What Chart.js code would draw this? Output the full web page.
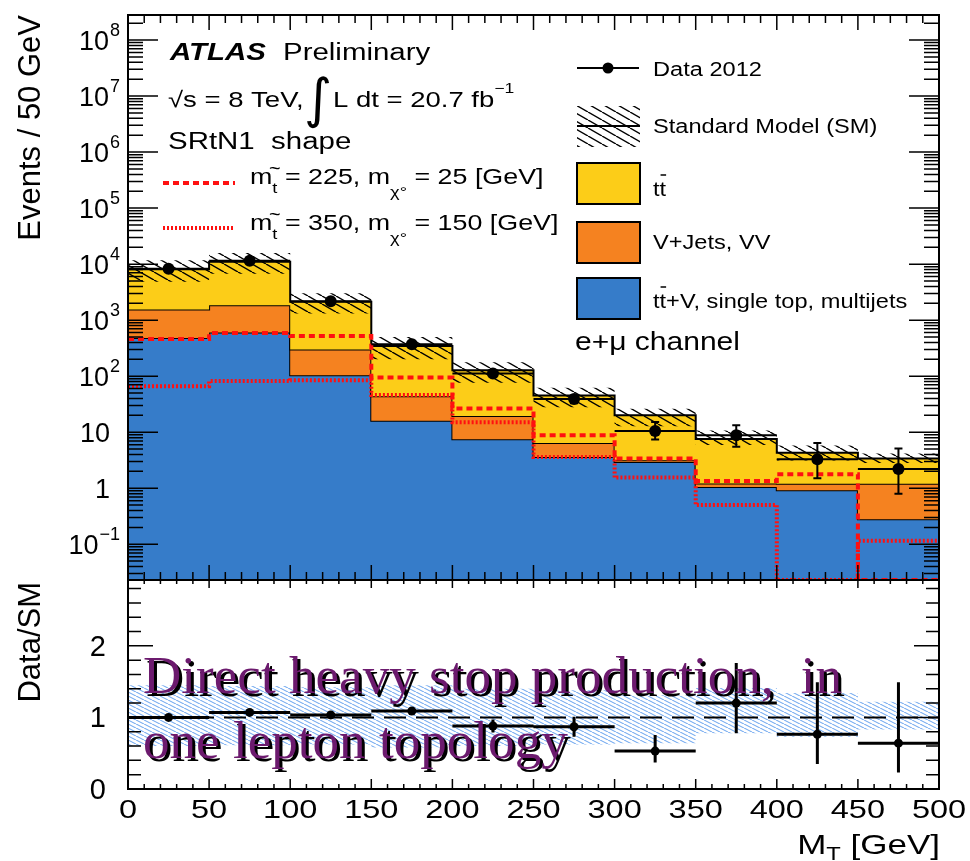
<!DOCTYPE html>
<html>
<head>
<meta charset="utf-8">
<title>MT distribution, SRtN1 shape</title>
<script src="https://cdn.jsdelivr.net/npm/chart.js@4.4.1/dist/chart.umd.min.js"></script>
<style>
  html, body { margin: 0; padding: 0; background: #fff; }
  #page { position: relative; width: 970px; height: 861px; overflow: hidden; }
  #topCanvas { position: absolute; left: 0; top: 0; }
  #ratioCanvas { position: absolute; left: 0; top: 560px; }
</style>
</head>
<body>
<div id="page">
  <canvas id="topCanvas" width="970" height="600"></canvas>
  <canvas id="ratioCanvas" width="970" height="301"></canvas>
</div>
<script>
// bins of M_T [GeV]
const binEdges = [0, 50, 100, 150, 200, 250, 300, 350, 400, 450, 500];

// stacked SM backgrounds, events / 50 GeV
const ttVSingleTop = [480, 600, 104, 16, 7.5, 3.6, 2.95, 1.05, 0.92, 0.28];
const vJetsVV = [1070, 1250, 196, 28, 12, 2.8, 0.2, 0.17, 0.28, 0.92];
const ttbar = [6550, 9150, 1830, 301, 107.5, 38.6, 16.85, 6.38, 3.1, 2.2];

// SM uncertainty band, as fraction of SM total
const smBandHi = [1.45, 1.44, 1.42, 1.45, 1.40, 1.38, 1.31, 1.41, 1.34, 1.22];
const smBandLo = [0.60, 0.61, 0.62, 0.58, 0.60, 0.62, 0.64, 0.78, 0.73, 0.83];

// data 2012
const data2012 = [8300, 11500, 2170, 370, 112, 39, 10.5, 8.8, 3.3, 2.2];
const dataErrLo = [91, 107, 47, 19, 11, 6, 3.1, 3.3, 1.8, 1.4];
const dataErrHi = [91, 107, 47, 19, 11, 6, 4.7, 4.5, 3.1, 2.9];

// signal points
const stop225 = [460, 590, 520, 95, 26.5, 8.8, 3.4, 1.35, 1.78, 0];
const stop350 = [66, 82, 85, 46, 15, 3.6, 1.55, 0.5, 0, 0.115];

// data / SM
const ratioVals = [1.0, 1.07, 1.035, 1.09, 0.88, 0.87, 0.53, 1.20, 0.765, 0.64];
const ratioErrLo = [0.02, 0.02, 0.03, 0.05, 0.09, 0.14, 0.16, 0.42, 0.415, 0.41];
const ratioErrHi = [0.02, 0.02, 0.03, 0.05, 0.09, 0.14, 0.225, 0.56, 0.725, 0.85];
const ratioRef = 1;

// axis ticks
const xTickLabels = ['0', '50', '100', '150', '200', '250', '300', '350', '400', '450', '500'];
const yTickVals = [0.1, 1, 10, 100, 1e3, 1e4, 1e5, 1e6, 1e7, 1e8];
const yTickLabels = [['10', '\u22121'], ['1', ''], ['10', ''], ['10', '2'], ['10', '3'],
                     ['10', '4'], ['10', '5'], ['10', '6'], ['10', '7'], ['10', '8']];
const ratioTickVals = [0, 1, 2];

const yMin = 0.023, yMax = 2.8e8;
const rMin = 0, rMax = 2.92;

const BLUE = '#367cc9', ORANGE = '#f58220', YELLOW = '#fccd18', RED = '#ff1010', PURPLE = '#6c1a6e';
const SANS = '"Liberation Sans", Arial, sans-serif';
const SERIF = '"Liberation Serif", "Times New Roman", serif';

// derived
const centers = binEdges.slice(0, -1).map((e, i) => (e + binEdges[i + 1]) / 2);
const orangeTop = ttVSingleTop.map((v, i) => v + vJetsVV[i]);
const smTotal = orangeTop.map((v, i) => v + ttbar[i]);
const smUp = smTotal.map((v, i) => v * smBandHi[i]);
const smDn = smTotal.map((v, i) => v * smBandLo[i]);

// histogram outline: one point per bin edge, last value repeated
const steps = (vals, floor) => binEdges.map((x, i) => {
  const v = vals[Math.min(i, vals.length - 1)];
  return { x, y: floor !== undefined ? Math.max(v, floor) : v };
});

function hatch(color, w, h, lw) {
  const c = document.createElement('canvas');
  c.width = w; c.height = h;
  const g = c.getContext('2d');
  g.strokeStyle = color; g.lineWidth = lw;
  g.beginPath();
  for (let k = -1; k <= 1; k++) { g.moveTo(k * w, 0); g.lineTo(k * w + w, h); }
  g.stroke();
  return g.createPattern(c, 'repeat');
}
const blackHatch = hatch('#000', 14, 8, 1.4);
const blueHatch = hatch('#74aaf0', 8, 4, 1.1);

// draw text runs (sub/superscripts) with a horizontal stretch
function drawRuns(ctx, parts, x, y, opts = {}) {
  const sx = opts.sx || 1, align = opts.align || 'left';
  ctx.save();
  let total = 0;
  for (const p of parts) {
    ctx.font = `${p.style || ''} ${p.size}px ${p.family || SANS}`;
    p.w = ctx.measureText(p.t).width * sx;
    total += p.w;
  }
  let cx = align === 'right' ? x - total : align === 'center' ? x - total / 2 : x;
  for (const p of parts) {
    ctx.font = `${p.style || ''} ${p.size}px ${p.family || SANS}`;
    ctx.fillStyle = p.color || '#000';
    ctx.textAlign = 'left';
    ctx.textBaseline = 'alphabetic';
    const by = y + (p.dy || 0);
    ctx.save(); ctx.translate(cx, by); ctx.scale(sx, 1); ctx.fillText(p.t, 0, 0); ctx.restore();
    if (p.tilde) {
      ctx.font = `${Math.round(p.size * 1.35)}px ${SANS}`;
      ctx.textAlign = 'center'; ctx.textBaseline = 'middle';
      ctx.fillText('~', cx + p.w / 2, by - p.size * 1.55);
    }
    if (p.bar) {
      ctx.strokeStyle = '#000'; ctx.lineWidth = 1.5;
      ctx.beginPath(); ctx.moveTo(cx + 1, by - p.size * 1.05); ctx.lineTo(cx + p.w, by - p.size * 1.05); ctx.stroke();
    }
    cx += p.w;
  }
  ctx.restore();
  return total;
}

function vtext(ctx, s, x, y, size) {
  ctx.save();
  ctx.translate(x, y); ctx.rotate(-Math.PI / 2);
  ctx.font = `${size}px ${SANS}`; ctx.fillStyle = '#000';
  ctx.textAlign = 'right'; ctx.textBaseline = 'alphabetic';
  ctx.fillText(s, 0, 0);
  ctx.restore();
}

// ---------- top panel ----------
const DATA_IDX = 7;

const topFrame = {
  id: 'topFrame',
  beforeDatasetDraw(chart, args) {
    if (args.index !== DATA_IDX) return;
    const { ctx, scales: { x, y } } = chart;
    ctx.save();
    ctx.strokeStyle = '#000'; ctx.lineWidth = 2;
    ctx.beginPath();
    data2012.forEach((v, i) => {
      const py = y.getPixelForValue(v);
      const cx = x.getPixelForValue(centers[i]);
      ctx.moveTo(x.getPixelForValue(binEdges[i]), py);
      ctx.lineTo(x.getPixelForValue(binEdges[i + 1]), py);
      const y1 = y.getPixelForValue(v + dataErrHi[i]);
      const y2 = y.getPixelForValue(v - dataErrLo[i]);
      ctx.moveTo(cx, y1); ctx.lineTo(cx, y2);
      ctx.moveTo(cx - 4, y1); ctx.lineTo(cx + 4, y1);
      ctx.moveTo(cx - 4, y2); ctx.lineTo(cx + 4, y2);
    });
    ctx.stroke();
    ctx.restore();
  },
  afterDatasetsDraw(chart) {
    const { ctx, chartArea: a, scales: { x, y } } = chart;
    ctx.save();
    ctx.strokeStyle = '#000';
    ctx.lineWidth = 1.5;
    ctx.beginPath();
    for (let v = 0; v <= 500; v += 10) {
      const px = x.getPixelForValue(v);
      const len = v % 50 === 0 ? 15 : 8;
      ctx.moveTo(px, a.top); ctx.lineTo(px, a.top + len);
      ctx.moveTo(px, a.bottom); ctx.lineTo(px, a.bottom - len);
    }
    for (let e = -2; e <= 8; e++) {
      for (let m = 1; m <= 9; m++) {
        const v = m * Math.pow(10, e);
        if (v < yMin || v > yMax) continue;
        const py = y.getPixelForValue(v);
        const len = m === 1 ? 30 : 15;
        ctx.moveTo(a.left, py); ctx.lineTo(a.left + len, py);
        ctx.moveTo(a.right, py); ctx.lineTo(a.right - len, py);
      }
    }
    ctx.stroke();
    ctx.lineWidth = 2;
    ctx.strokeRect(a.left, a.top, a.right - a.left, a.bottom - a.top);
    ctx.restore();
  },
  afterDraw(chart) {
    const { ctx, scales: { y } } = chart;
    vtext(ctx, 'Events / 50 GeV', 40, 15, 31);

    // y tick labels
    yTickVals.forEach((v, i) => {
      const py = y.getPixelForValue(v);
      const [base, ex] = yTickLabels[i];
      if (ex) {
        ctx.font = `18px ${SANS}`;
        const we = ctx.measureText(ex).width;
        drawRuns(ctx, [{ t: ex, size: 18 }], 120 - we, py - 4);
        drawRuns(ctx, [{ t: base, size: 27 }], 119 - we, py + 10, { align: 'right' });
      } else {
        drawRuns(ctx, [{ t: base, size: 27 }], 110, py + 10, { align: 'right' });
      }
    });

    // header text
    drawRuns(ctx, [{ t: 'ATLAS', size: 23, style: 'italic bold' }], 170, 60, { sx: 1.28 });
    drawRuns(ctx, [{ t: 'Preliminary', size: 23 }], 283, 60, { sx: 1.28 });
    drawRuns(ctx, [{ t: '\u221As = 8 TeV,', size: 22 }], 168, 107, { sx: 1.25 });
    drawRuns(ctx, [{ t: '\u222B', size: 54, family: '"DejaVu Sans", sans-serif' }], 304, 117, { sx: 1 });
    drawRuns(ctx, [{ t: 'L dt = 20.7 fb', size: 22 }, { t: '\u22121', size: 14, dy: -14 }], 333, 107, { sx: 1.25 });
    drawRuns(ctx, [{ t: 'SRtN1  shape', size: 23 }], 168, 149, { sx: 1.28 });

    // signal legend
    ctx.save();
    ctx.strokeStyle = RED; ctx.lineWidth = 4;
    ctx.setLineDash([6, 4]);
    ctx.beginPath(); ctx.moveTo(163, 183); ctx.lineTo(235, 183); ctx.stroke();
    ctx.setLineDash([2, 2]);
    ctx.beginPath(); ctx.moveTo(163, 228); ctx.lineTo(235, 228); ctx.stroke();
    ctx.restore();
    const sigLabel = (mst, mchi) => [
      { t: 'm', size: 22 }, { t: 't', size: 15, dy: 9, tilde: true },
      { t: ' = ' + mst + ', m', size: 22 }, { t: '\u03C7\u00B0', size: 15, dy: 13 },
      { t: ' = ' + mchi + ' [GeV]', size: 22 }
    ];
    drawRuns(ctx, sigLabel(225, 25), 250, 184, { sx: 1.22 });
    drawRuns(ctx, sigLabel(350, 150), 250, 230, { sx: 1.22 });

    // right legend
    ctx.save();
    ctx.strokeStyle = '#000'; ctx.lineWidth = 2;
    ctx.beginPath(); ctx.moveTo(577, 68); ctx.lineTo(639, 68); ctx.stroke();
    ctx.fillStyle = '#000';
    ctx.beginPath(); ctx.arc(608, 68, 5.5, 0, Math.PI * 2); ctx.fill();
    ctx.fillStyle = blackHatch; ctx.fillRect(577, 106, 63, 41);
    ctx.beginPath(); ctx.moveTo(577, 126); ctx.lineTo(640, 126); ctx.stroke();
    [[YELLOW, 163], [ORANGE, 222], [BLUE, 278]].forEach(([c, top]) => {
      ctx.fillStyle = c; ctx.fillRect(577, top, 63, 41);
      ctx.strokeRect(577, top, 63, 41);
    });
    ctx.restore();
    drawRuns(ctx, [{ t: 'Data 2012', size: 20 }], 653, 76, { sx: 1.18 });
    drawRuns(ctx, [{ t: 'Standard Model (SM)', size: 20 }], 653, 133, { sx: 1.18 });
    drawRuns(ctx, [{ t: 't', size: 20 }, { t: 't', size: 20, bar: true }], 653, 196, { sx: 1.18 });
    drawRuns(ctx, [{ t: 'V+Jets, VV', size: 20 }], 653, 249, { sx: 1.18 });
    drawRuns(ctx, [{ t: 't', size: 20 }, { t: 't', size: 20, bar: true },
                   { t: '+V, single top, multijets', size: 20 }], 653, 308, { sx: 1.18 });
    drawRuns(ctx, [{ t: 'e+\u03BC channel', size: 25 }], 575, 350, { sx: 1.2 });
  }
};

const lineBase = { stepped: true, pointRadius: 0, borderWidth: 2, borderColor: '#000', clip: 0 };

new Chart(document.getElementById('topCanvas'), {
  type: 'line',
  data: {
    datasets: [
      { ...lineBase, label: 'ttbar+V, single top, multijets', data: steps(ttVSingleTop, yMin),
        fill: 'start', backgroundColor: BLUE, order: 10 },
      { ...lineBase, label: 'V+Jets, VV', data: steps(orangeTop, yMin),
        fill: 0, backgroundColor: ORANGE, order: 9 },
      { ...lineBase, label: 'ttbar', data: steps(smTotal, yMin),
        fill: 1, backgroundColor: YELLOW, order: 8 },
      { ...lineBase, label: 'SM low', data: steps(smDn, yMin),
        borderColor: 'rgba(0,0,0,0)', fill: false, order: 7 },
      { ...lineBase, label: 'Standard Model (SM)', data: steps(smUp, yMin),
        borderColor: 'rgba(0,0,0,0)', fill: 3, backgroundColor: blackHatch, order: 6 },
      { ...lineBase, label: 'm_stop = 350, m_chi = 150', data: steps(stop350, yMin),
        borderColor: RED, borderWidth: 4, borderDash: [2, 2], fill: false, order: 5 },
      { ...lineBase, label: 'm_stop = 225, m_chi = 25', data: steps(stop225, yMin),
        borderColor: RED, borderWidth: 4, borderDash: [6, 4], fill: false, order: 4 },
      { label: 'Data 2012', data: centers.map((x, i) => ({ x, y: data2012[i] })),
        showLine: false, pointRadius: 6, pointBackgroundColor: '#000', pointBorderWidth: 0,
        pointBorderColor: '#000', order: 1 }
    ]
  },
  options: {
    responsive: false,
    animation: false,
    devicePixelRatio: 1,
    layout: { padding: { left: 128, right: 31, top: 15, bottom: 20 } },
    scales: {
      x: { type: 'linear', min: 0, max: 500, display: false },
      y: { type: 'logarithmic', min: yMin, max: yMax, display: false }
    },
    plugins: { legend: { display: false }, tooltip: { enabled: false } },
    elements: { line: { tension: 0 } }
  },
  plugins: [topFrame]
});

// ---------- ratio panel ----------
const R_DATA_IDX = 3;

const ratioFrame = {
  id: 'ratioFrame',
  beforeDatasetDraw(chart, args) {
    if (args.index !== R_DATA_IDX) return;
    const { ctx, scales: { x, y } } = chart;
    ctx.save();
    ctx.strokeStyle = '#000'; ctx.lineWidth = 3;
    ctx.beginPath();
    ratioVals.forEach((v, i) => {
      const py = y.getPixelForValue(v);
      const cx = x.getPixelForValue(centers[i]);
      ctx.moveTo(x.getPixelForValue(binEdges[i]), py);
      ctx.lineTo(x.getPixelForValue(binEdges[i + 1]), py);
      ctx.moveTo(cx, y.getPixelForValue(v + ratioErrHi[i]));
      ctx.lineTo(cx, y.getPixelForValue(v - ratioErrLo[i]));
    });
    ctx.stroke();
    ctx.restore();
  },
  afterDatasetsDraw(chart) {
    const { ctx, chartArea: a, scales: { x, y } } = chart;
    ctx.save();
    ctx.strokeStyle = '#000'; ctx.lineWidth = 1.5;
    ctx.beginPath();
    for (let v = 0; v <= 500; v += 10) {
      const px = x.getPixelForValue(v);
      const major = v % 50 === 0;
      ctx.moveTo(px, a.bottom); ctx.lineTo(px, a.bottom - (major ? 10 : 5));
      ctx.moveTo(px, a.top); ctx.lineTo(px, a.top + (major ? 8 : 4));
    }
    for (let k = 0; k <= 14; k++) {
      const v = k * 0.2;
      if (v > rMax) continue;
      const py = y.getPixelForValue(v);
      const len = k % 5 === 0 ? 25 : 13;
      ctx.moveTo(a.left, py); ctx.lineTo(a.left + len, py);
      ctx.moveTo(a.right, py); ctx.lineTo(a.right - len, py);
    }
    ctx.stroke();
    ctx.lineWidth = 2;
    ctx.strokeRect(a.left, a.top, a.right - a.left, a.bottom - a.top);
    ctx.restore();
  },
  afterDraw(chart) {
    const { ctx, scales: { x, y } } = chart;
    vtext(ctx, 'Data/SM', 40, 22, 31);
    ratioTickVals.forEach(v => {
      drawRuns(ctx, [{ t: String(v), size: 29 }], 106, y.getPixelForValue(v) + 10, { align: 'right' });
    });
    binEdges.forEach((v, i) => {
      drawRuns(ctx, [{ t: xTickLabels[i], size: 25 }], x.getPixelForValue(v), 258, { sx: 1.3, align: 'center' });
    });
    drawRuns(ctx, [{ t: 'M', size: 28 }, { t: 'T', size: 19, dy: 6 }, { t: ' [GeV]', size: 28 }],
             940, 294, { sx: 1.25, align: 'right' });

    // slide annotation
    const lines = ['Direct heavy stop production,  in', 'one lepton topology'];
    ctx.save();
    ctx.font = `53px ${SERIF}`;
    const sx = 699 / ctx.measureText(lines[0]).width;
    [[lines[0], 133], [lines[1], 198]].forEach(([s, by]) => {
      [['#000', 3], [PURPLE, 0]].forEach(([c, off]) => {
        ctx.save();
        ctx.translate(143 + off, by + off); ctx.scale(sx, 1);
        ctx.fillStyle = c; ctx.fillText(s, 0, 0);
        ctx.restore();
      });
    });
    ctx.restore();
  }
};

new Chart(document.getElementById('ratioCanvas'), {
  type: 'line',
  data: {
    datasets: [
      { ...lineBase, label: 'SM band low', data: steps(smBandLo),
        borderColor: 'rgba(0,0,0,0)', fill: false, order: 6 },
      { ...lineBase, label: 'SM band high', data: steps(smBandHi),
        borderColor: 'rgba(0,0,0,0)', fill: 0, backgroundColor: blueHatch, order: 5 },
      { label: 'ref', data: [{ x: binEdges[0], y: ratioRef }, { x: binEdges[binEdges.length - 1], y: ratioRef }],
        borderColor: '#000', borderWidth: 2, borderDash: [22, 10], pointRadius: 0, fill: false, order: 4 },
      { label: 'Data/SM', data: centers.map((x, i) => ({ x, y: ratioVals[i] })),
        showLine: false, pointRadius: 4.5, pointBackgroundColor: '#000', pointBorderWidth: 0,
        pointBorderColor: '#000', order: 1 }
    ]
  },
  options: {
    responsive: false,
    animation: false,
    devicePixelRatio: 1,
    layout: { padding: { left: 128, right: 31, top: 20, bottom: 72 } },
    scales: {
      x: { type: 'linear', min: 0, max: 500, display: false },
      y: { type: 'linear', min: rMin, max: rMax, display: false }
    },
    plugins: { legend: { display: false }, tooltip: { enabled: false } },
    elements: { line: { tension: 0 } }
  },
  plugins: [ratioFrame]
});
</script>
</body>
</html>
